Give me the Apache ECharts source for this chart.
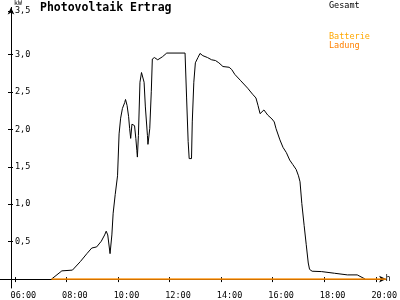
<!DOCTYPE html>
<html><head><meta charset="utf-8">
<script src="https://cdn.jsdelivr.net/npm/echarts@6/dist/echarts.min.js"></script>
<style>html,body{margin:0;padding:0;background:#fff}#c{width:400px;height:300px}</style>
</head><body><div id="c"></div>
<script>
// Gesamt (kW) over time of day (decimal hours)
const gesamtTimes = [7.42,7.82,8.23,8.54,8.79,8.98,9.17,9.35,9.48,9.54,9.60,9.69,9.76,9.81,9.89,9.98,10.04,10.10,10.17,10.26,10.29,10.35,10.41,10.45,10.49,10.54,10.60,10.64,10.69,10.73,10.75,10.79,10.85,10.91,10.97,11.01,11.06,11.14,11.16,11.23,11.29,11.33,11.41,11.54,11.72,11.89,12.60,12.66,12.72,12.76,12.85,12.88,12.94,13.00,13.10,13.18,13.29,13.47,13.63,13.78,13.91,14.07,14.31,14.41,14.53,14.76,15.03,15.22,15.35,15.43,15.51,15.66,15.81,15.97,16.06,16.13,16.28,16.40,16.53,16.66,16.78,16.91,17.00,17.06,17.13,17.22,17.30,17.38,17.43,17.53,17.90,18.40,18.90,19.28,19.59];
const gesamtValues = [0,0.11,0.12,0.235,0.34,0.415,0.43,0.506,0.59,0.64,0.59,0.34,0.59,0.88,1.13,1.38,1.94,2.15,2.28,2.36,2.40,2.32,2.17,2.01,1.88,2.07,2.09,2.05,1.88,1.715,1.63,1.92,2.63,2.76,2.78,2.63,2.30,1.92,1.80,2.01,2.51,2.94,2.96,2.93,2.97,3.02,3.02,2.42,1.84,1.61,1.61,2.10,2.63,2.89,2.96,3.015,2.985,2.96,2.93,2.92,2.89,2.84,2.83,2.80,2.735,2.65,2.55,2.47,2.42,2.32,2.21,2.26,2.19,2.14,2.10,2.01,1.86,1.76,1.69,1.59,1.53,1.465,1.38,1.30,1.01,0.715,0.465,0.215,0.13,0.105,0.10,0.078,0.056,0.056,0];
const batterieTimes = [7.42,20.40];
const batterieValues = [0,0];
const ladungTimes = [7.42,20.40];
const ladungValues = [0,0];
const xTickHours = [6,8,10,12,14,16,18,20];
const xTickLabels = ['06:00','08:00','10:00','12:00','14:00','16:00','18:00','20:00'];
const yTickValues = [0.5,1.0,1.5,2.0,2.5,3.0,3.5];
const yTickLabels = ['0,5','1,0','1,5','2,0','2,5','3,0','3,5'];

const zip = (a,b) => a.map((t,i)=>[t,b[i]]);
const FONT = 'DejaVu Sans Mono';
const Y_TOP = 3.58;               // the top label sits at the axis end
const yPos = yTickValues.map(v => v >= 3.5 ? Y_TOP : v);
const xLabelPos = xTickHours.map(h => h - 0.17);

const chart = echarts.init(document.getElementById('c'), null, {renderer:'canvas'});
const yBase = {
  type:'value', min:-0.119, max:3.63, offset:-11, position:'left',
  splitLine:{show:false}
};
const xBase = {
  type:'value', min:5.42, max:20.40, position:'bottom',
  splitLine:{show:false}
};
chart.setOption({
  animation:false,
  backgroundColor:'#fff',
  title:{text:'Photovoltaik Ertrag', left:35, top:-3,
    textStyle:{fontFamily:FONT, fontWeight:'bold', fontSize:11.5, color:'#000'}},
  legend:[
    {left:319, top:-4, orient:'vertical', itemWidth:0, itemHeight:8, itemGap:0, selectedMode:false,
     textStyle:{fontFamily:FONT, fontSize:8.5, lineHeight:8},
     data:[{name:'Gesamt', icon:'rect', textStyle:{color:'#000'}}]},
    {left:319, top:27, orient:'vertical', itemWidth:0, itemHeight:8, itemGap:0, selectedMode:false,
     textStyle:{fontFamily:FONT, fontSize:8.5, lineHeight:8},
     data:[{name:'Batterie', icon:'rect', textStyle:{color:'#ffa800'}},
           {name:'Ladung', icon:'rect', textStyle:{color:'#ff8000'}}]}
  ],
  grid:{left:0, right:0, top:0, bottom:0, containLabel:false},
  xAxis:[
    Object.assign({}, xBase, {
      name:'h', nameLocation:'end', nameGap:2,
      nameTextStyle:{fontFamily:FONT, fontSize:8.5, color:'#000', align:'center', verticalAlign:'middle', padding:[6,0,0,0]},
      axisLine:{show:true, onZero:true, symbol:['none','arrow'], symbolSize:[5,7], lineStyle:{color:'#000', width:1}},
      axisTick:{show:true, inside:false, length:3, customValues:xTickHours, lineStyle:{color:'#000'}},
      axisLabel:{show:true, customValues:xLabelPos, align:'left', margin:3,
        fontFamily:FONT, fontSize:8.5, color:'#000',
        formatter:(v)=>xTickLabels[xTickHours.indexOf(Math.round(v))]}
    }),
    Object.assign({}, xBase, {
      axisLine:{show:false, onZero:true},
      axisTick:{show:true, inside:true, length:2, customValues:xTickHours, lineStyle:{color:'#000'}},
      axisLabel:{show:false}
    })
  ],
  yAxis:[
    Object.assign({}, yBase, {
      name:'kW', nameLocation:'end', nameGap:-4,
      nameTextStyle:{fontFamily:FONT, fontSize:6.5, color:'#000', align:'left', verticalAlign:'bottom', padding:[0,0,0,3]},
      axisLine:{show:true, symbol:['none','arrow'], symbolSize:[5,7], lineStyle:{color:'#000', width:1}},
      axisTick:{show:true, inside:false, length:3, customValues:yPos, lineStyle:{color:'#000'}},
      axisLabel:{show:true, inside:true, margin:4, customValues:yPos,
        fontFamily:FONT, fontSize:8.5, color:'#000',
        formatter:(v)=>{let k=0,d=1e9;yPos.forEach((p,i)=>{if(Math.abs(p-v)<d){d=Math.abs(p-v);k=i;}});return yTickLabels[k];}}
    }),
    Object.assign({}, yBase, {
      axisLine:{show:false},
      axisTick:{show:true, inside:true, length:2, customValues:yPos, lineStyle:{color:'#000'}},
      axisLabel:{show:false}
    })
  ],
  series:[
    {name:'Gesamt', type:'line', data:zip(gesamtTimes,gesamtValues), showSymbol:false, z:3,
     lineStyle:{color:'#000', width:1}, itemStyle:{color:'#000'}},
    {name:'Batterie', type:'line', data:zip(batterieTimes,batterieValues), showSymbol:false, z:4,
     lineStyle:{color:'#ffa800', width:1}, itemStyle:{color:'#ffa800'}},
    {name:'Ladung', type:'line', data:zip(ladungTimes,ladungValues), showSymbol:false, z:5,
     lineStyle:{color:'#ff8000', width:1}, itemStyle:{color:'#ff8000'}}
  ]
});
</script></body></html>
